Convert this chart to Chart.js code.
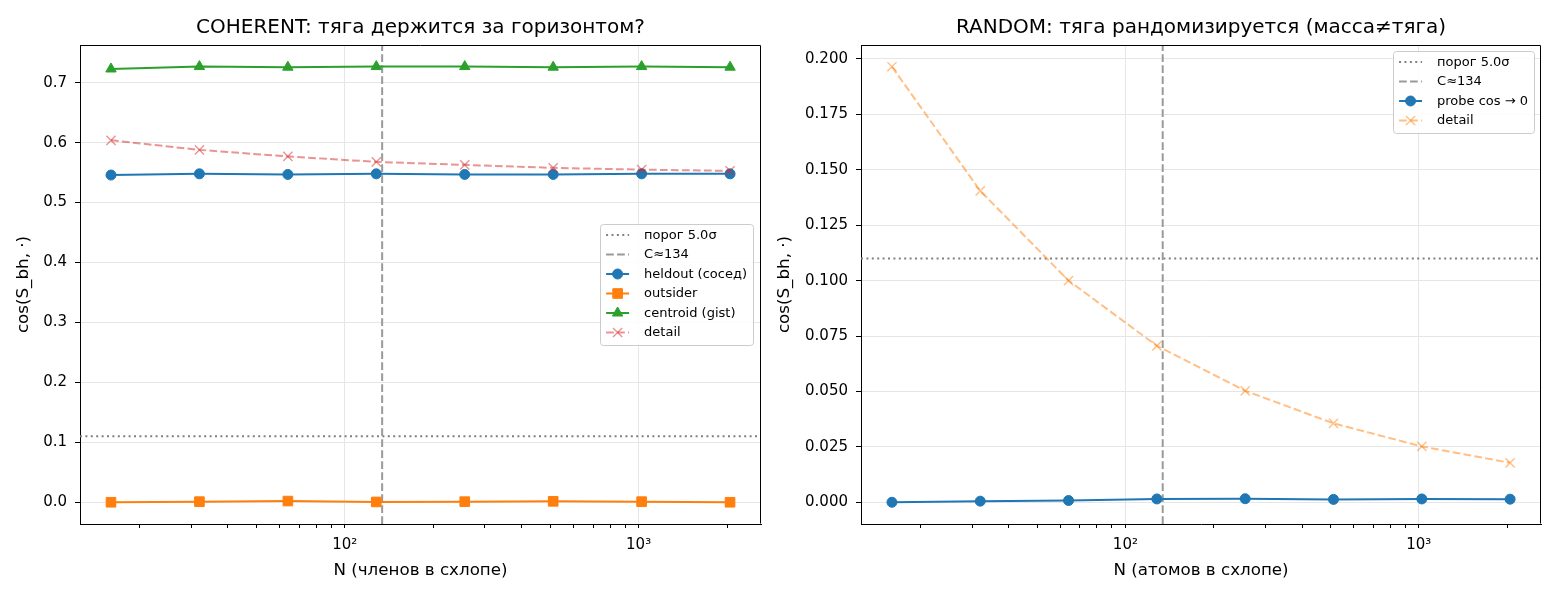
<!DOCTYPE html>
<html>
<head>
<meta charset="utf-8">
<script src="https://cdn.jsdelivr.net/npm/chart.js@4.4.1/dist/chart.umd.min.js"></script>
<style>
html, body { margin: 0; padding: 0; background: #fff; }
#wrap { position: relative; width: 1560px; height: 600px; overflow: hidden; background: #fff; }
canvas { position: absolute; top: 0; }
</style>
</head>
<body>
<div id="wrap">
  <canvas id="left" width="780" height="600" style="left:0;width:780px;height:600px"></canvas>
  <canvas id="right" width="790" height="600" style="left:770px;width:790px;height:600px"></canvas>
</div>
<script>
// ---- data ----
const N = [16, 32, 64, 128, 256, 512, 1024, 2048];
const C_VALUE = 134;
const THRESHOLD = 0.11;

// COHERENT
const coherentHeldout  = [0.546, 0.548, 0.547, 0.548, 0.547, 0.547, 0.548, 0.548];
const coherentOutsider = [0.000, 0.001, 0.002, 0.0005, 0.001, 0.0015, 0.001, 0.000];
const coherentCentroid = [0.723, 0.727, 0.726, 0.727, 0.727, 0.726, 0.727, 0.726];
const coherentDetail   = [0.604, 0.588, 0.577, 0.568, 0.563, 0.558, 0.555, 0.553];

// RANDOM
const randomProbe  = [0.0000, 0.0005, 0.0008, 0.0015, 0.0016, 0.0013, 0.0015, 0.0014];
const randomDetail = [0.1965, 0.1405, 0.1000, 0.0706, 0.0503, 0.0356, 0.0252, 0.0178];

// axes
const X_RANGE = [12.55, 2610];
const X_TICKS = [20, 30, 40, 50, 60, 70, 80, 90, 100, 200, 300, 400, 500, 600, 700, 800, 900, 1000, 2000];
const X_MAJOR = [100, 1000];
const X_MAJOR_LABELS = ['10²', '10³'];
const coherentYRange = [-0.0363, 0.763];
const coherentYTicks = [0, 0.1, 0.2, 0.3, 0.4, 0.5, 0.6, 0.7];
const coherentYLabels = ['0.0', '0.1', '0.2', '0.3', '0.4', '0.5', '0.6', '0.7'];
const randomYRange = [-0.0098, 0.2063];
const randomYTicks = [0, 0.025, 0.05, 0.075, 0.1, 0.125, 0.15, 0.175, 0.2];
const randomYLabels = ['0.000', '0.025', '0.050', '0.075', '0.100', '0.125', '0.150', '0.175', '0.200'];

Chart.defaults.font.family = 'DejaVu Sans';
Chart.defaults.font.size = 15;
Chart.defaults.color = '#000';

const GRID = '#e6e6e6';
const DASH = [7.7, 3.3];
const DOT = [2, 3.4];
const LEGEND_FONT = '13px "DejaVu Sans"';

function series(label, xs, ys, st) {
  return {
    label: label,
    data: xs.map((x, i) => ({ x: x, y: ys[i] })),
    borderColor: st.color,
    backgroundColor: st.color,
    borderWidth: 2,
    borderDash: st.dash || [],
    pointStyle: st.marker || 'circle',
    pointRadius: st.marker ? st.r : 0,
    pointBorderColor: st.color,
    pointBackgroundColor: st.color,
    pointBorderWidth: st.pbw || 1,
    tension: 0,
    fill: false
  };
}

function drawMarker(ctx, ds, x, y) {
  if (!ds.pointRadius) return;
  ctx.save();
  ctx.fillStyle = ds.pointBackgroundColor;
  ctx.strokeStyle = ds.pointBorderColor;
  ctx.lineWidth = ds.pointBorderWidth;
  Chart.helpers.drawPoint(ctx, { pointStyle: ds.pointStyle, radius: ds.pointRadius, rotation: 0, borderWidth: ds.pointBorderWidth }, x, y);
  ctx.restore();
}

const mplFrame = {
  id: 'mplFrame',
  afterDraw(chart, args, opts) {
    const ctx = chart.ctx;
    const a = chart.chartArea;
    ctx.save();
    ctx.strokeStyle = '#000';
    ctx.lineWidth = 1;
    ctx.beginPath();
    const l = Math.round(a.left) + 0.5, r = Math.round(a.right) - 0.5;
    const t = Math.round(a.top) + 0.5, b = Math.round(a.bottom) - 0.5;
    ctx.moveTo(l, t); ctx.lineTo(r, t); ctx.lineTo(r, b);
    ctx.stroke();

    // legend box inside the axes
    const dsets = chart.data.datasets;
    ctx.font = LEGEND_FONT;
    let tw = 0;
    dsets.forEach(d => { tw = Math.max(tw, ctx.measureText(d.label).width); });
    const w = 44 + tw + 6;
    const h = dsets.length * 19.5 + 4;
    const bx = a.right - opts.dx - w;
    const by = opts.where === 'center' ? (a.top + a.bottom) / 2 - h / 2 : a.top + opts.dy;
    ctx.fillStyle = 'rgba(255,255,255,0.85)';
    ctx.strokeStyle = '#cccccc';
    ctx.lineWidth = 1;
    ctx.beginPath();
    ctx.roundRect(Math.round(bx) + 0.5, Math.round(by) + 0.5, Math.round(w), Math.round(h), 3);
    ctx.fill();
    ctx.stroke();
    dsets.forEach((d, i) => {
      const yy = by + 11 + i * 19.5;
      ctx.save();
      ctx.strokeStyle = d.borderColor;
      ctx.lineWidth = d.borderWidth;
      ctx.setLineDash(d.borderDash);
      ctx.beginPath();
      ctx.moveTo(bx + 6, yy);
      ctx.lineTo(bx + 29, yy);
      ctx.stroke();
      ctx.restore();
      drawMarker(ctx, d, bx + 17.5, yy);
      ctx.fillStyle = '#000';
      ctx.font = LEGEND_FONT;
      ctx.textBaseline = 'middle';
      ctx.textAlign = 'left';
      ctx.fillText(d.label, bx + 44, yy + 0.5);
    });
    ctx.restore();
  }
};

function makeChart(id, o) {
  const dsets = o.datasets.map((d, i, arr) => Object.assign(d, { order: arr.length - i }));
  return new Chart(document.getElementById(id), {
    type: 'line',
    data: { datasets: dsets },
    plugins: [mplFrame],
    options: {
      responsive: false,
      animation: false,
      layout: { padding: { left: 0, right: o.padRight, top: 0, bottom: 0 } },
      plugins: {
        legend: { display: false },
        tooltip: { enabled: false },
        title: {
          display: true, text: o.title, fullSize: false,
          font: { size: 20, weight: 'normal' }, color: '#000',
          padding: { top: 16, bottom: 5 }
        },
        mplFrame: o.legend
      },
      scales: {
        x: {
          type: 'logarithmic', min: X_RANGE[0], max: X_RANGE[1],
          afterBuildTicks: s => { s.ticks = X_TICKS.map(v => ({ value: v, major: X_MAJOR.includes(v) })); },
          afterFit: s => { s.height = 76; },
          ticks: {
            autoSkip: false, maxRotation: 0, minRotation: 0, padding: 8,
            callback: v => { const k = X_MAJOR.indexOf(v); return k >= 0 ? X_MAJOR_LABELS[k] : ''; }
          },
          grid: {
            color: c => (c.tick && X_MAJOR.includes(c.tick.value)) ? GRID : 'rgba(0,0,0,0)',
            tickColor: '#000', tickLength: 4, lineWidth: 1
          },
          border: { display: true, color: '#000', width: 1 },
          title: { display: true, text: o.xTitle, font: { size: 16.7 }, padding: { top: 0, bottom: 19 } }
        },
        y: {
          type: 'linear', min: o.yRange[0], max: o.yRange[1],
          afterBuildTicks: s => { s.ticks = o.yTicks.map(v => ({ value: v })); },
          afterFit: s => { s.width = o.yWidth; },
          ticks: { padding: 8, callback: (v, i) => o.yLabels[i] },
          grid: { color: GRID, tickColor: '#000', tickLength: 5, lineWidth: 1 },
          border: { display: true, color: '#000', width: 1 },
          title: { display: true, text: 'cos(S_bh, ·)', font: { size: 16.7 }, padding: { top: o.yTitlePad, bottom: 0 } }
        }
      }
    }
  });
}

const thrStyle = { color: '#808080', dash: DOT };
const cStyle = { color: '#9a9a9a', dash: DASH };

makeChart('left', {
  title: 'COHERENT: тяга держится за горизонтом?',
  xTitle: 'N (членов в схлопе)',
  yRange: coherentYRange, yTicks: coherentYTicks, yLabels: coherentYLabels,
  yWidth: 80, yTitlePad: 14, padRight: 19,
  legend: { where: 'center', dx: 8, dy: 0 },
  datasets: [
    series('порог 5.0σ', X_RANGE, [THRESHOLD, THRESHOLD], thrStyle),
    series('C≈' + C_VALUE, [C_VALUE, C_VALUE], coherentYRange, cStyle),
    series('heldout (сосед)', N, coherentHeldout, { color: '#1f77b4', marker: 'circle', r: 5 }),
    series('outsider', N, coherentOutsider, { color: '#ff7f0e', marker: 'rect', r: 6.8 }),
    series('centroid (gist)', N, coherentCentroid, { color: '#2ca02c', marker: 'triangle', r: 6 }),
    series('detail', N, coherentDetail, { color: 'rgba(214,39,40,0.5)', dash: DASH, marker: 'crossRot', r: 6.5, pbw: 1.4 })
  ]
});

makeChart('right', {
  title: 'RANDOM: тяга рандомизируется (масса≠тяга)',
  xTitle: 'N (атомов в схлопе)',
  yRange: randomYRange, yTicks: randomYTicks, yLabels: randomYLabels,
  yWidth: 91, yTitlePad: 5, padRight: 19,
  legend: { where: 'top', dx: 7, dy: 6 },
  datasets: [
    series('порог 5.0σ', X_RANGE, [THRESHOLD, THRESHOLD], thrStyle),
    series('C≈' + C_VALUE, [C_VALUE, C_VALUE], randomYRange, cStyle),
    series('probe cos → 0', N, randomProbe, { color: '#1f77b4', marker: 'circle', r: 5 }),
    series('detail', N, randomDetail, { color: 'rgba(255,127,14,0.5)', dash: DASH, marker: 'crossRot', r: 6.5, pbw: 1.4 })
  ]
});
</script>
</body>
</html>
